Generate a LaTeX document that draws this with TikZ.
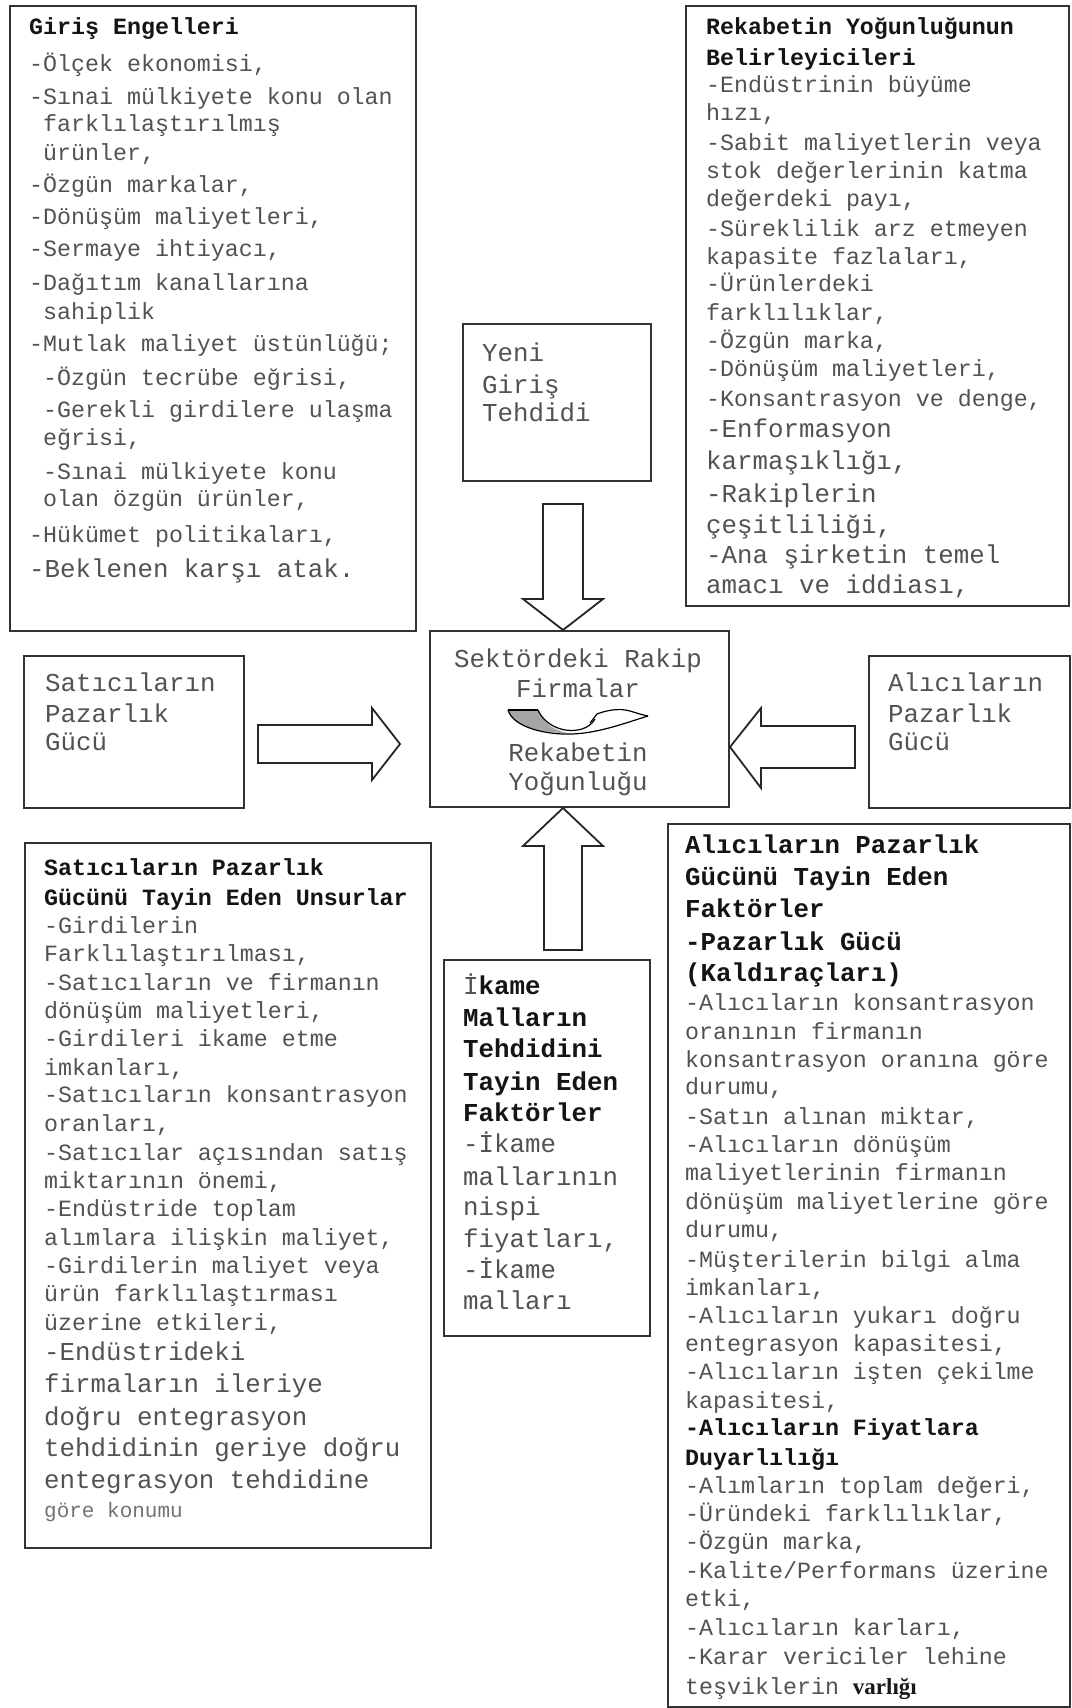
\documentclass[tikz,border=0pt]{standalone}
\usepackage{fontspec}
\newfontfamily\cm{Liberation Mono}
\newfontfamily\tms{Liberation Serif}
\usetikzlibrary{calc}
\tikzset{
  boxr/.style={draw=black!80, line width=2pt, fill=white, inner sep=0pt, anchor=north west},
  barrow/.style={draw=black!85, line width=1.8pt, fill=white, line join=miter},
  curv/.style={draw=black, line width=1.2pt},
  tr/.style={anchor=base west, inner sep=0pt, font=\cm\fontsize{23.3}{28}\selectfont, text=black!68},
  tb/.style={tr, font=\cm\bfseries\fontsize{23.3}{28}\selectfont, text=black!92},
  tR/.style={tr, font=\cm\fontsize{25.8}{31}\selectfont},
  tB/.style={tb, font=\cm\bfseries\fontsize{25.8}{31}\selectfont},
  tc/.style={tR, anchor=base},
  ts/.style={tr, font=\cm\fontsize{21}{25}\selectfont, text=black!55},
}
\begin{document}
\begin{tikzpicture}[x=1pt,y=-1pt]
\fill[white] (0,0) rectangle (1071,1708);
\useasboundingbox (0,0) rectangle (1071,1708);

% ---------- boxes ----------
\node[boxr, minimum width=406, minimum height=625] (A) at (9,5) {};
\node[boxr, minimum width=383, minimum height=600] (B) at (685,5) {};
\node[boxr, minimum width=188, minimum height=157] (Y) at (462,323) {};
\node[boxr, minimum width=299, minimum height=176] (C) at (429,630) {};
\node[boxr, minimum width=220, minimum height=152] (S) at (23,655) {};
\node[boxr, minimum width=201, minimum height=152] (L) at (868,655) {};
\node[boxr, minimum width=406, minimum height=705] (D) at (24,842) {};
\node[boxr, minimum width=206, minimum height=376] (I) at (443,959) {};
\node[boxr, minimum width=402, minimum height=883] (E) at (667,823) {};

% ---------- block arrows ----------
\coordinate (tD) at ($(C.north west)+(134,0)$);
\coordinate (tU) at ($(C.south west)+(134,0)$);
\coordinate (tR) at ($(C.west)+(-29,25)$);
\coordinate (tL) at ($(C.east)+(0,28)$);
\draw[barrow, shift={(tD)}] (0,0) -- (40,-31) -- (20,-31) -- (20,-126) -- (-20,-126) -- (-20,-31) -- (-40,-31) -- cycle;
\draw[barrow, shift={(tU)}] (0,0) -- (40,38) -- (19,38) -- (19,142) -- (-19,142) -- (-19,38) -- (-40,38) -- cycle;
\draw[barrow, shift={(tR)}] (0,0) -- (-28,36) -- (-28,19) -- (-142,19) -- (-142,-19) -- (-28,-19) -- (-28,-36) -- cycle;
\draw[barrow, shift={(tL)}] (0,0) -- (31,-39) -- (31,-21) -- (125,-21) -- (125,21) -- (31,21) -- (31,41) -- cycle;

% ---------- box A ----------
\node[tb] (a0) at (29,34) {Giriş Engelleri};
\node[tr] (a1) at (29,71) {-Ölçek ekonomisi,};
\node[tr] (a2) at (29,104) {-Sınai mülkiyete konu olan};
\node[tr] (a3) at (43,131) {farklılaştırılmış};
\node[tr] (a4) at (43,160) {ürünler,};
\node[tr] (a5) at (29,192) {-Özgün markalar,};
\node[tr] (a6) at (29,224) {-Dönüşüm maliyetleri,};
\node[tr] (a7) at (29,256) {-Sermaye ihtiyacı,};
\node[tr] (a8) at (29,290) {-Dağıtım kanallarına};
\node[tr] (a9) at (43,319) {sahiplik};
\node[tr] (a10) at (29,351) {-Mutlak maliyet üstünlüğü;};
\node[tr] (a11) at (43,385) {-Özgün tecrübe eğrisi,};
\node[tr] (a12) at (43,417) {-Gerekli girdilere ulaşma};
\node[tr] (a13) at (43,445) {eğrisi,};
\node[tr] (a14) at (43,479) {-Sınai mülkiyete konu};
\node[tr] (a15) at (43,506) {olan özgün ürünler,};
\node[tr] (a16) at (29,542) {-Hükümet politikaları,};
\node[tR] (a17) at (29,577) {-Beklenen karşı atak.};

% ---------- box B ----------
\node[tb] (b0) at (706,34) {Rekabetin Yoğunluğunun};
\node[tb] (b1) at (706,65) {Belirleyicileri};
\node[tr] (b2) at (706,92) {-Endüstrinin büyüme};
\node[tr] (b3) at (706,120) {hızı,};
\node[tr] (b4) at (706,150) {-Sabit maliyetlerin veya};
\node[tr] (b5) at (706,178) {stok değerlerinin katma};
\node[tr] (b6) at (706,206) {değerdeki payı,};
\node[tr] (b7) at (706,236) {-Süreklilik arz etmeyen};
\node[tr] (b8) at (706,264) {kapasite fazlaları,};
\node[tr] (b9) at (706,291) {-Ürünlerdeki};
\node[tr] (b10) at (706,320) {farklılıklar,};
\node[tr] (b11) at (706,348) {-Özgün marka,};
\node[tr] (b12) at (706,376) {-Dönüşüm maliyetleri,};
\node[tr] (b13) at (706,406) {-Konsantrasyon ve denge,};
\node[tR] (b14) at (706,437) {-Enformasyon};
\node[tR] (b15) at (706,469) {karmaşıklığı,};
\node[tR] (b16) at (706,502) {-Rakiplerin};
\node[tR] (b17) at (706,533) {çeşitliliği,};
\node[tR] (b18) at (706,563) {-Ana şirketin temel};
\node[tR] (b19) at (706,593) {amacı ve iddiası,};

% ---------- Yeni Giriş ----------
\node[tR] (y1) at (482,361) {Yeni};
\node[tR] (y2) at (482,393) {Giriş};
\node[tR] (y3) at (482,421) {Tehdidi};

% ---------- center ----------
\node[tc] (c1) at (578,667) {Sektördeki Rakip};
\node[tc] (c2) at (578,697) {Firmalar};
\node[tc] (c3) at (578,761) {Rekabetin};
\node[tc] (c4) at (578,790) {Yoğunluğu};
\fill[black!35] (508,710) -- (538,710) .. controls (545,726) and (556,730) .. (567,733) .. controls (540,733) and (513,727) .. (508,710);
\draw[curv] (508,710) -- (538,710);
\draw[curv] (508,710) .. controls (513,727) and (545,735) .. (572,734) .. controls (600,733) and (628,722) .. (648,716);
\draw[curv] (538,710) .. controls (545,726) and (565,734) .. (582,729) .. controls (588,727) and (592,724) .. (595,719);
\draw[curv] (590,723) -- (597,714) .. controls (607,710) and (620,708) .. (630,711) .. controls (637,713) and (642,715) .. (648,716);

% ---------- side boxes ----------
\node[tR] (s1) at (45,691) {Satıcıların};
\node[tR] (s2) at (45,722) {Pazarlık};
\node[tR] (s3) at (45,750) {Gücü};
\node[tR] (l1) at (888,691) {Alıcıların};
\node[tR] (l2) at (888,722) {Pazarlık};
\node[tR] (l3) at (888,750) {Gücü};

% ---------- box D ----------
\node[tb] (d0) at (44,875) {Satıcıların Pazarlık};
\node[tb] (d1) at (44,905) {Gücünü Tayin Eden Unsurlar};
\node[tr] (d2) at (44,933) {-Girdilerin};
\node[tr] (d3) at (44,961) {Farklılaştırılması,};
\node[tr] (d4) at (44,990) {-Satıcıların ve firmanın};
\node[tr] (d5) at (44,1018) {dönüşüm maliyetleri,};
\node[tr] (d6) at (44,1046) {-Girdileri ikame etme};
\node[tr] (d7) at (44,1075) {imkanları,};
\node[tr] (d8) at (44,1102) {-Satıcıların konsantrasyon};
\node[tr] (d9) at (44,1131) {oranları,};
\node[tr] (d10) at (44,1160) {-Satıcılar açısından satış};
\node[tr] (d11) at (44,1188) {miktarının önemi,};
\node[tr] (d12) at (44,1216) {-Endüstride toplam};
\node[tr] (d13) at (44,1245) {alımlara ilişkin maliyet,};
\node[tr] (d14) at (44,1273) {-Girdilerin maliyet veya};
\node[tr] (d15) at (44,1301) {ürün farklılaştırması};
\node[tr] (d16) at (44,1330) {üzerine etkileri,};
\node[tR] (d17) at (44,1360) {-Endüstrideki};
\node[tR] (d18) at (44,1392) {firmaların ileriye};
\node[tR] (d19) at (44,1425) {doğru entegrasyon};
\node[tR] (d20) at (44,1456) {tehdidinin geriye doğru};
\node[tR] (d21) at (44,1488) {entegrasyon tehdidine};
\node[ts] (d22) at (44,1517) {göre konumu};

% ---------- box I ----------
\node[tR] (i0) at (463,994) {İ\textbf{\color{black!92}kame}};
\node[tB] (i1) at (463,1026) {Malların};
\node[tB] (i2) at (463,1057) {Tehdidini};
\node[tB] (i3) at (463,1090) {Tayin Eden};
\node[tB] (i4) at (463,1121) {Faktörler};
\node[tR] (i5) at (463,1152) {-İkame};
\node[tR] (i6) at (463,1185) {mallarının};
\node[tR] (i7) at (463,1215) {nispi};
\node[tR] (i8) at (463,1247) {fiyatları,};
\node[tR] (i9) at (463,1278) {-İkame};
\node[tR] (i10) at (463,1309) {malları};

% ---------- box E ----------
\node[tB] (e0) at (685,853) {Alıcıların Pazarlık};
\node[tB] (e1) at (685,885) {Gücünü Tayin Eden};
\node[tB] (e2) at (685,917) {Faktörler};
\node[tB] (e3) at (685,950) {-Pazarlık Gücü};
\node[tB] (e4) at (685,981) {(Kaldıraçları)};
\node[tr] (e5) at (685,1010) {-Alıcıların konsantrasyon};
\node[tr] (e6) at (685,1039) {oranının firmanın};
\node[tr] (e7) at (685,1067) {konsantrasyon oranına göre};
\node[tr] (e8) at (685,1094) {durumu,};
\node[tr] (e9) at (685,1124) {-Satın alınan miktar,};
\node[tr] (e10) at (685,1152) {-Alıcıların dönüşüm};
\node[tr] (e11) at (685,1180) {maliyetlerinin firmanın};
\node[tr] (e12) at (685,1209) {dönüşüm maliyetlerine göre};
\node[tr] (e13) at (685,1237) {durumu,};
\node[tr] (e14) at (685,1267) {-Müşterilerin bilgi alma};
\node[tr] (e15) at (685,1295) {imkanları,};
\node[tr] (e16) at (685,1323) {-Alıcıların yukarı doğru};
\node[tr] (e17) at (685,1351) {entegrasyon kapasitesi,};
\node[tr] (e18) at (685,1379) {-Alıcıların işten çekilme};
\node[tr] (e19) at (685,1408) {kapasitesi,};
\node[tb] (e20) at (685,1435) {-Alıcıların Fiyatlara};
\node[tb] (e21) at (685,1465) {Duyarlılığı};
\node[tr] (e22) at (685,1493) {-Alımların toplam değeri,};
\node[tr] (e23) at (685,1521) {-Üründeki farklılıklar,};
\node[tr] (e24) at (685,1549) {-Özgün marka,};
\node[tr] (e25) at (685,1578) {-Kalite/Performans üzerine};
\node[tr] (e26) at (685,1606) {etki,};
\node[tr] (e27) at (685,1635) {-Alıcıların karları,};
\node[tr] (e28) at (685,1664) {-Karar vericiler lehine};
\node[tr] (e29) at (685,1694) {teşviklerin {\tms\bfseries\fontsize{23}{28}\selectfont\color{black!90}varlığı}};
\end{tikzpicture}
\end{document}
